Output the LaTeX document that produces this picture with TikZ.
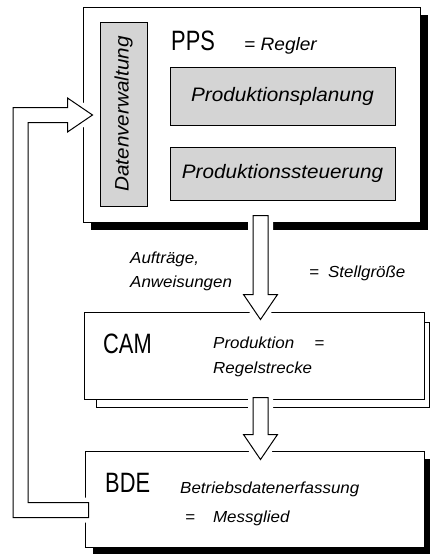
\documentclass[tikz,border=0pt]{standalone}
\usepackage{fontspec}
\setmainfont{Liberation Sans}
\newfontfamily\notefont[FakeStretch=1.06]{Liberation Sans}
\newfontfamily\namefont[FakeStretch=0.78]{Liberation Sans}
\usetikzlibrary{calc}

\tikzset{
  block/.style={draw, line width=1pt, fill=white, inner sep=0pt},
  inner block/.style={block, fill=black!17, font=\notefont\itshape\fontsize{19.5}{19.5}\selectfont},
  hard shadow/.style={preaction={fill=black, transform canvas={xshift=8pt, yshift=-8pt}}},
  fat arrow/.style={draw, fill=white, line width=1pt, line join=miter,
    preaction={draw=white, line width=10pt, line join=round}},
  name text/.style={anchor=base west, inner sep=0pt, font=\namefont\fontsize{28}{28}\selectfont},
  note text/.style={anchor=base west, inner sep=0pt, font=\notefont\itshape\fontsize{16}{16}\selectfont},
}

% hollow arrow pointing down, #1 = top of shaft, #2 = tip
\newcommand{\fatdown}[2]{%
  \draw[fat arrow] ($(#1)+(-7.5,0)$) -- ($(#1)+(7.5,0)$) -- ($(#2)+(7.5,-25)$)
    -- ($(#2)+(17,-25)$) -- (#2) -- ($(#2)+(-17,-25)$) -- ($(#2)+(-7.5,-25)$) -- cycle;}

\begin{document}
\begin{tikzpicture}[x=1pt, y=-1pt]

\path [use as bounding box] (0,0) rectangle (430,554);

% BLOCKS
\node [block, hard shadow, minimum width=337pt, minimum height=215pt] (pps) at (251.5,114.5) {};
\draw [block] (96,322) rectangle (429,407);
\node [block, minimum width=340pt, minimum height=87pt] (cam) at (254,355.5) {};
\node [block, hard shadow, minimum width=339pt, minimum height=96pt] (bde) at (254.5,499) {};

% ARROWS
\coordinate (a1) at ($(pps.south)+(9,-7)$);
\coordinate (a1tip) at ($(cam.north)+(6.5,8)$);
\coordinate (a2) at ($(cam.south)+(6.5,-2)$);
\coordinate (a2tip) at ($(bde.north)+(6,9)$);
\fatdown{a1}{a1tip}
\fatdown{a2}{a2tip}

% FEEDBACK
\coordinate (fbtail) at ($(bde.west)+(4,11)$);
\coordinate (fbtip) at ($(pps.west)+(10,0.5)$);
\coordinate (fbleft) at (20.5,300);
\draw [fat arrow] ($(fbtail)+(0,7.5)$) -| ($(fbleft)+(-7.5,0)$) |- ($(fbtip)+(-25,-7.5)$)
  -- ($(fbtip)+(-25,-17)$) -- (fbtip) -- ($(fbtip)+(-25,17)$) -- ($(fbtip)+(-25,7.5)$)
  -| ($(fbleft)+(7.5,0)$) |- ($(fbtail)+(0,-7.5)$) -- cycle;

% PPS
\node [inner block, rotate=90, minimum width=184pt, minimum height=47pt] (dv) at (123.5,114) {Datenverwaltung};
\node [inner block, minimum width=225pt, minimum height=58pt] (plan) at (282.5,96) {Produktionsplanung};
\node [inner block, minimum width=225pt, minimum height=53pt] (steu) at (282.5,173.5) {Produktionssteuerung};
\node [name text] (ppsname) at (171,50) {PPS};
\node [note text, font=\notefont\itshape\fontsize{18}{18}\selectfont] (regler) at (244,50) {= Regler};

% STELLGROESSE
\node [note text] (auf1) at (130,263) {Aufträge,};
\node [note text] (auf2) at (130,287) {Anweisungen};
\node [note text] (stell) at (309,277) {=\hspace{9pt}Stellgröße};

% CAM
\node [name text] (camname) at (103,353) {CAM};
\node [note text] (prod1) at (213,348) {Produktion\hspace{20pt}=};
\node [note text] (prod2) at (213,373) {Regelstrecke};

% BDE
\node [name text] (bdename) at (105,492) {BDE};
\node [note text] (bde1) at (180,493) {Betriebsdatenerfassung};
\node [note text] (bde2) at (185,522) {=\hspace{18pt}Messglied};

\end{tikzpicture}
\end{document}
